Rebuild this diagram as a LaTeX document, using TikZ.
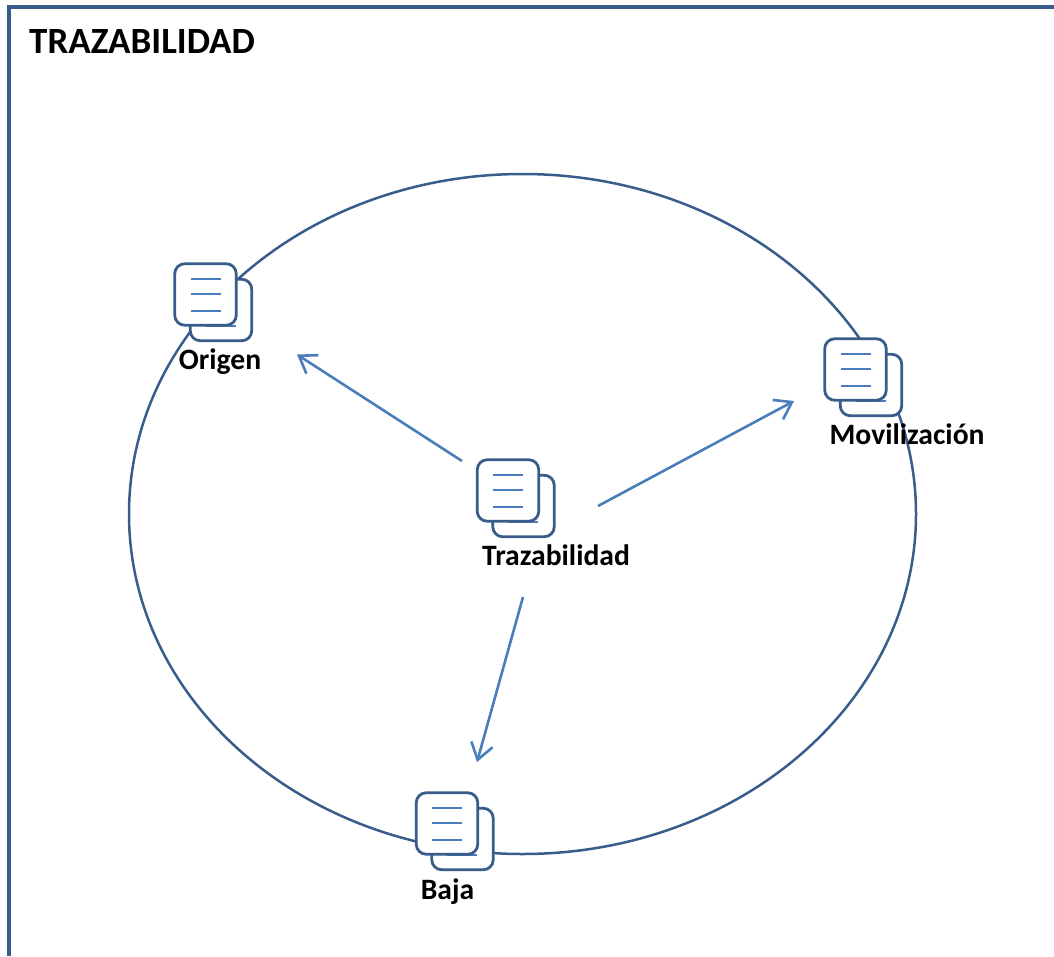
\documentclass[tikz,border=0pt]{standalone}
\usepackage{fontspec}
\setmainfont{Carlito}
\usetikzlibrary{arrows.meta,shapes.geometric}
\definecolor{darkblue}{HTML}{385D8A}
\definecolor{lightblue}{HTML}{4A7EBB}
\tikzset{
  frameline/.style={draw=darkblue,line width=3.5pt},
  ringshape/.style={draw=darkblue,line width=2.5pt,shape=ellipse,inner sep=0pt,minimum width=787pt,minimum height=680pt},
  flow/.style={draw=lightblue,line width=2.6pt,-{Straight Barb[length=16pt,width=22pt,line width=2.6pt]}},
  label text/.style={font=\bfseries\fontsize{29.6}{34}\selectfont,text=black,inner sep=0pt,anchor=base},
  title text/.style={font=\bfseries\fontsize{37}{44}\selectfont,text=black,inner sep=0pt,anchor=base west},
  docsheet/.style={draw=darkblue,line width=2.8pt,fill=white,rounded corners=10pt,minimum width=61.5pt,minimum height=61.5pt,inner sep=0pt},
  textline/.style={draw=lightblue,line width=2pt},
  pics/docicon/.style={code={
    \node[docsheet] (-back) at (15.5,15.5) {};
    \draw[textline] (0,31) -- (30,31);
    \node[docsheet] (-front) at (0,0) {};
    \draw[textline] (-15,-15.5) -- (15,-15.5);
    \draw[textline] (-15,-0.5) -- (15,-0.5);
    \draw[textline] (-15,16) -- (15,16);
  }}
}
\begin{document}
\begin{tikzpicture}[x=1pt,y=-1pt]
\useasboundingbox (0,0) rectangle (1054,956);
\draw[frameline] (9,956) -- (9,7) -- (1054,7);
\node[title text] (title) at (29,53) {TRAZABILIDAD};
\node[ringshape] (ring) at (522.5,514) {};
\pic (origen) at (205.5,294.5) {docicon};
\pic (movil) at (855.5,369.5) {docicon};
\pic (traza) at (508,490.5) {docicon};
\pic (baja) at (447,823.5) {docicon};
\node[label text] (lorigen) at (220,369) {Origen};
\node[label text] (lmovil) at (907,444) {Movilización};
\node[label text] (ltraza) at (556,565) {Trazabilidad};
\node[label text] (lbaja) at (447.5,899) {Baja};
\coordinate (a1s) at (462,461);
\coordinate (a1e) at (297,354.5);
\coordinate (a2s) at (598,506);
\coordinate (a2e) at (794,401);
\coordinate (a3s) at (523,597);
\coordinate (a3e) at (477,762);
\draw[flow] (a1s) -- (a1e);
\draw[flow] (a2s) -- (a2e);
\draw[flow] (a3s) -- (a3e);
\end{tikzpicture}
\end{document}
